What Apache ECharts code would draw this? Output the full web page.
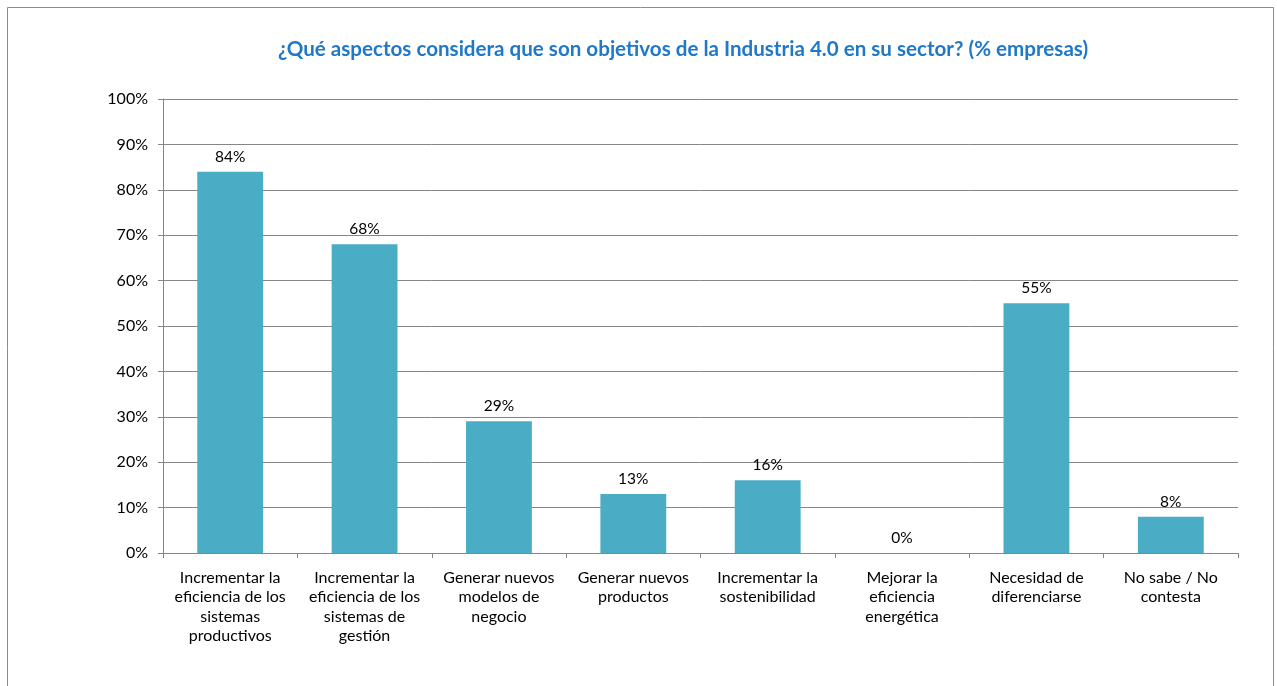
<!DOCTYPE html>
<html>
<head>
<meta charset="utf-8">
<script src="https://cdn.jsdelivr.net/npm/echarts@6/dist/echarts.min.js"></script>
<style>
html,body{margin:0;padding:0;background:#fff;}
#chart{width:1277px;height:686px;}
</style>
</head>
<body>
<div id="chart"></div>
<script>
const titleText = '¿Qué aspectos considera que son objetivos de la Industria 4.0 en su sector? (% empresas)';
const categories = [
  'Incrementar la\neficiencia de los\nsistemas\nproductivos',
  'Incrementar la\neficiencia de los\nsistemas de\ngestión',
  'Generar nuevos\nmodelos de\nnegocio',
  'Generar nuevos\nproductos',
  'Incrementar la\nsostenibilidad',
  'Mejorar la\neficiencia\nenergética',
  'Necesidad de\ndiferenciarse',
  'No sabe / No\ncontesta'
];
const values = [84, 68, 29, 13, 16, 0, 55, 8];

const chart = echarts.init(document.getElementById('chart'), null, {renderer: 'canvas'});
const font = 'Lato, "Liberation Sans", sans-serif';
chart.setOption({
  animation: false,
  backgroundColor: '#ffffff',
  title: {
    text: titleText,
    left: 678,
    textAlign: 'center',
    top: 34,
    textStyle: {color: '#1f78c8', fontSize: 20.6, fontWeight: 'bold', fontFamily: font}
  },
  graphic: [{
    type: 'rect',
    shape: {x: 7.5, y: 7.5, width: 1266, height: 700},
    style: {fill: 'none', stroke: '#8c8c8c', lineWidth: 1},
    silent: true
  }],
  grid: {left: 163, right: 39, top: 99, bottom: 133},
  xAxis: {
    type: 'category',
    data: categories,
    axisLine: {lineStyle: {color: '#868686', width: 1}},
    axisTick: {show: true, alignWithLabel: false, length: 5, lineStyle: {color: '#868686'}},
    axisLabel: {interval: 0, margin: 15, color: '#000', fontSize: 16, lineHeight: 19.5, fontFamily: font}
  },
  yAxis: {
    type: 'value',
    min: 0, max: 100, interval: 10,
    axisLine: {show: true, lineStyle: {color: '#868686', width: 1}},
    axisTick: {show: true, length: 5, lineStyle: {color: '#868686'}},
    axisLabel: {formatter: '{value}%', margin: 15, color: '#000', fontSize: 16, fontFamily: font},
    splitLine: {show: true, lineStyle: {color: '#868686', width: 1}}
  },
  series: [{
    type: 'bar',
    data: values,
    barCategoryGap: '51%',
    itemStyle: {color: '#4bacc6'},
    label: {
      show: true, position: 'top', distance: 7, formatter: '{c}%',
      color: '#000', fontSize: 15.5, fontFamily: font
    }
  }]
});
</script>
</body>
</html>
